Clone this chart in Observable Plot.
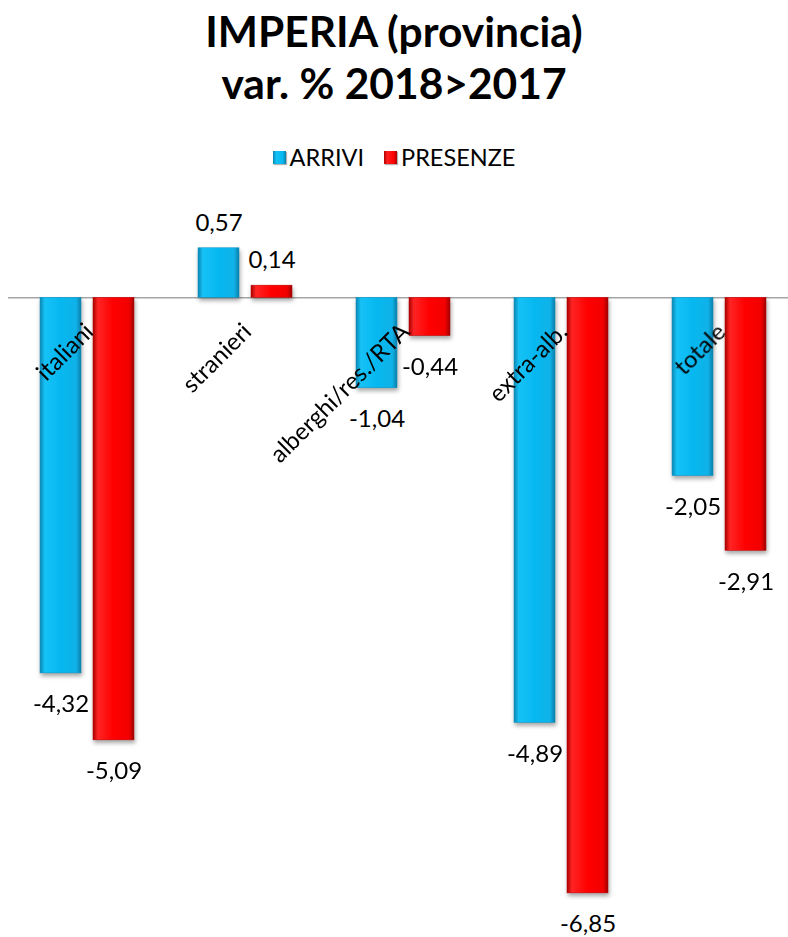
<!DOCTYPE html>
<html><head><meta charset="utf-8">
<script src="https://cdn.jsdelivr.net/npm/d3@7"></script>
<script src="https://cdn.jsdelivr.net/npm/@observablehq/plot@0.6"></script>
<style>
body{margin:0;background:#fff;font-family:Lato,sans-serif;width:788px;height:937px;position:relative;overflow:hidden}
#title{position:absolute;left:0;top:5px;width:788px;font-weight:bold;font-size:42.5px;text-align:center;line-height:52px;color:#000}
#legend{position:absolute;left:0;top:143px;width:788px;display:flex;justify-content:center;align-items:center;font-size:23.5px;line-height:28px;color:#000}
.item{display:flex;align-items:center;margin:0 10px}
.sw{width:13px;height:13px;margin-right:4px;box-shadow:1px 1px 1px rgba(0,0,0,0.3)}
#chart{position:absolute;left:0;top:180px;width:788px;height:757px;overflow:hidden}
#chart svg{max-width:none !important;height:757px !important;width:799px !important}
</style></head><body>
<div id="title">IMPERIA (provincia)<br>var. % 2018&gt;2017</div>
<div id="legend"></div>
<div id="chart"></div>
<script>
const categories = ["italiani", "stranieri", "alberghi/res./RTA", "extra-alb.", "totale"];
const series = ["ARRIVI", "PRESENZE"];
const arrivi = [-4.32, 0.57, -1.04, -4.89, -2.05];
const presenze = [-5.09, 0.14, -0.44, -6.85, -2.91];
const gradIds = ["gBlue", "gRed"];

const rows = [];
categories.forEach((c, i) => {
  rows.push({cat: c, series: series[0], value: arrivi[i]});
  rows.push({cat: c, series: series[1], value: presenze[i]});
});

// legend
const lg = document.getElementById("legend");
series.forEach((s, i) => {
  const it = document.createElement("div"); it.className = "item";
  const sw = document.createElement("div"); sw.className = "sw";
  sw.style.background = i === 0
    ? "linear-gradient(90deg,#0a86b3,#14c0f4 25%,#06b8f0 75%,#0a80aa)"
    : "linear-gradient(90deg,#b00000,#ff2020 25%,#ff0000 75%,#a80000)";
  const tx = document.createElement("span"); tx.textContent = s;
  it.appendChild(sw); it.appendChild(tx); lg.appendChild(it);
});

const fmt = v => v.toFixed(2).replace(".", ",");

const chart = Plot.plot({
  width: 799,
  height: 757,
  marginTop: 13,
  marginBottom: 5,
  marginLeft: 7,
  marginRight: 0,
  facet: {data: rows, x: "cat", marginTop: 0, marginBottom: 0, marginLeft: 0, marginRight: 0},
  fx: {domain: categories, axis: null, padding: 0},
  x: {domain: series, axis: null, paddingInner: 0.226, paddingOuter: 0.6},
  y: {domain: [-7.3, 1.2], axis: null},
  style: {fontFamily: "Lato, sans-serif", background: "transparent", overflow: "visible", maxWidth: "none"},
  marks: [
    Plot.ruleY([0], {stroke: "#a6a6a6", strokeWidth: 1.5}),
    Plot.barY(rows, {filter: d => d.series === series[0], x: "series", y: "value", fill: "url(#gBlue)", stroke: "#0a93c4", strokeWidth: 0.5}),
    Plot.barY(rows, {filter: d => d.series === series[1], x: "series", y: "value", fill: "url(#gRed)", stroke: "#c00000", strokeWidth: 0.5}),
    Plot.text(rows, {filter: d => d.value >= 0, x: "series", y: "value", text: d => fmt(d.value), dy: -25, fontSize: 24, fill: "black"}),
    Plot.text(rows, {filter: d => d.value < 0, x: "series", y: "value", text: d => fmt(d.value), dy: 31, fontSize: 24, fill: "black"}),
    Plot.text(rows, {filter: d => d.series === series[0], y: () => 0, text: "cat", rotate: -45, textAnchor: "end", dx: 2, dy: 30, fontSize: 24, fill: "black"})
  ]
});

// gradients for bevelled bars
const svg = d3.select(chart);
const defs = svg.insert("defs", ":first-child");
const stopsSets = [
  [[0, "#0a86b3"], [0.12, "#16c2f6"], [0.5, "#06b8f0"], [0.88, "#0fb2e8"], [1, "#0a7ea8"]],
  [[0, "#a80000"], [0.12, "#ff2424"], [0.5, "#ff0000"], [0.88, "#f20000"], [1, "#9c0000"]]
];
gradIds.forEach((id, i) => {
  const g = defs.append("linearGradient").attr("id", id).attr("x1", 0).attr("x2", 1).attr("y1", 0).attr("y2", 0);
  stopsSets[i].forEach(([o, c]) => g.append("stop").attr("offset", o).attr("stop-color", c));
});
svg.selectAll('g[aria-label="bar"]').style("filter", "drop-shadow(1px 3px 2px rgba(0,0,0,0.35))");

document.getElementById("chart").appendChild(chart);
</script>
</body></html>
